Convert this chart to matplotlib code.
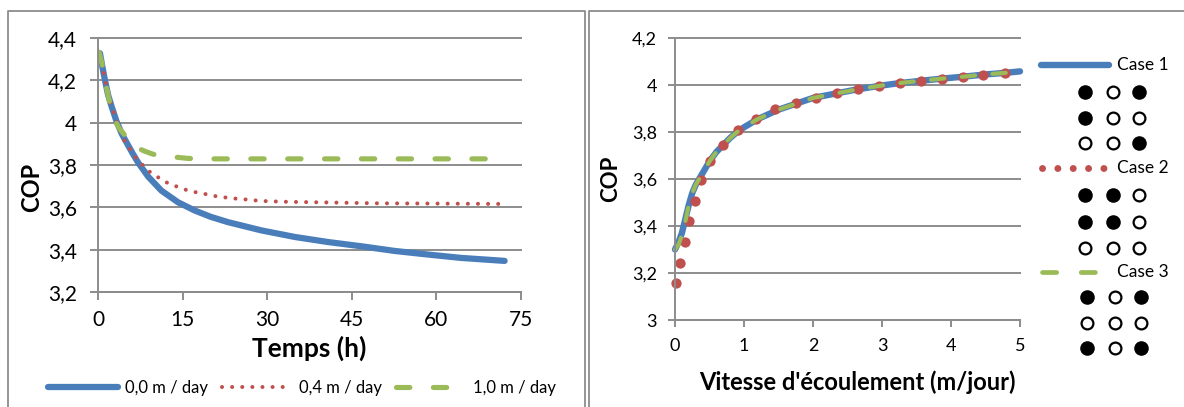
import matplotlib
matplotlib.use('Agg')
import matplotlib.pyplot as plt
from matplotlib.ticker import FuncFormatter
from matplotlib.lines import Line2D

plt.rcParams['font.family'] = ['Lato', 'DejaVu Sans']

# ---- left chart: COP vs time, three flow velocities ----
t_00 = [0.35, 0.8, 1.24, 1.8, 2.43, 3.26, 4.2, 5.3, 6.2, 7.1, 8.9, 11.24, 14.18,
        17.15, 20, 23.05, 28.97, 34.9, 40.8, 46.7, 52.6, 58.5, 64.4, 72.1]
cop_00 = [4.328, 4.26, 4.20, 4.13, 4.075, 4.008, 3.948, 3.895, 3.852, 3.812, 3.745,
          3.679, 3.624, 3.585, 3.555, 3.530, 3.491, 3.460, 3.436, 3.416, 3.394,
          3.377, 3.361, 3.347]

t_04 = [0.35, 1.24, 2.43, 3.5, 4.6, 6.5, 7.87, 9.17, 10.64, 12.12, 13.9, 15.67, 17.4,
        19.2, 21, 22.8, 24.5, 26.3, 28.2, 30, 33.7, 40.8, 49.6, 58.5, 71.8]
cop_04 = [4.328, 4.20, 4.075, 3.99, 3.919, 3.840, 3.801, 3.768, 3.742, 3.718, 3.699,
          3.682, 3.671, 3.662, 3.652, 3.646, 3.641, 3.637, 3.632, 3.629, 3.626,
          3.623, 3.619, 3.618, 3.616]

t_10 = [0.18, 0.7, 1.3, 2.07, 2.66, 3.7, 4.73, 5.8, 6.8, 8.3, 9.75, 11.4, 13, 16, 20, 72]
cop_10 = [4.333, 4.28, 4.19, 4.097, 4.03, 3.975, 3.942, 3.905, 3.883, 3.865, 3.851,
          3.843, 3.839, 3.831, 3.829, 3.829]

left_labels = ['0,0 m / day', '0,4 m / day', '1,0 m / day']

# ---- right chart: COP vs flow velocity, three borehole layouts ----
v_case1 = [0, 0.05, 0.1, 0.15, 0.2, 0.25, 0.3, 0.4, 0.5, 0.6, 0.7, 0.8, 0.9, 1.0,
           1.2, 1.5, 1.75, 2.0, 2.35, 2.65, 3.0, 3.25, 3.6, 3.9, 4.2, 4.5, 4.8, 5.0]
cop_case1 = [3.30, 3.33, 3.37, 3.43, 3.49, 3.54, 3.575, 3.625, 3.675, 3.715, 3.745,
             3.775, 3.80, 3.82, 3.855, 3.895, 3.92, 3.945, 3.965, 3.982, 3.998,
             4.008, 4.019, 4.028, 4.036, 4.045, 4.052, 4.058]

v_case2 = [0.01, 0.07, 0.15, 0.21, 0.29, 0.38, 0.51, 0.69, 0.92, 1.17, 1.45, 1.75,
           2.04, 2.35, 2.65, 2.95, 3.26, 3.56, 3.87, 4.17, 4.47, 4.78]
cop_case2 = [3.159, 3.244, 3.331, 3.420, 3.508, 3.594, 3.676, 3.746, 3.810, 3.857,
             3.897, 3.922, 3.946, 3.966, 3.983, 3.997, 4.010, 4.018, 4.027, 4.035,
             4.043, 4.050]

v_case3 = [0, 0.05, 0.1, 0.15, 0.2, 0.25, 0.3, 0.4, 0.5, 0.6, 0.7, 0.8, 0.9, 1.0,
           1.2, 1.5, 1.75, 2.0, 2.35, 2.65, 3.0, 3.25, 3.6, 3.9, 4.2, 4.5, 4.8]
cop_case3 = [3.30, 3.32, 3.36, 3.42, 3.49, 3.54, 3.575, 3.625, 3.675, 3.715, 3.745,
             3.775, 3.80, 3.82, 3.855, 3.895, 3.92, 3.945, 3.965, 3.982, 3.998,
             4.008, 4.019, 4.028, 4.036, 4.045, 4.052]

case_labels = ['Case 1', 'Case 2', 'Case 3']
# borehole layouts (1 = filled circle, 0 = empty circle)
layouts = [
    [[1, 0, 1], [1, 0, 0], [0, 0, 1]],
    [[1, 1, 0], [1, 1, 0], [0, 0, 0]],
    [[1, 0, 1], [0, 0, 0], [1, 0, 1]],
]

BLUE = '#4a7ebb'
RED = '#c0504d'
GREEN = '#9bbb59'
GRID = '#8c8c8c'

W, H = 1184, 407


def box(x0, y0, x1, y1):
    return [x0 / W, 1 - y1 / H, (x1 - x0) / W, (y1 - y0) / H]


def comma(v, pos):
    return f"{v:g}".replace('.', ',')


def style(ax, size, tick_len, ypad, xpad):
    for s in ['top', 'right']:
        ax.spines[s].set_visible(False)
    for s in ['left', 'bottom']:
        ax.spines[s].set_color(GRID)
        ax.spines[s].set_linewidth(1.4)
    ax.grid(axis='y', color=GRID, linewidth=1.4)
    ax.set_axisbelow(True)
    ax.tick_params(direction='out', length=tick_len, width=1.4, color=GRID,
                   labelsize=size, labelcolor='black')
    ax.tick_params(axis='y', pad=ypad)
    ax.tick_params(axis='x', pad=xpad)
    ax.yaxis.set_major_formatter(FuncFormatter(comma))
    for gl in ax.get_ygridlines():
        gl.set_clip_on(False)


fig = plt.figure(figsize=(W / 100, H / 100), dpi=100)

# ---------------- left chart ----------------
ax1 = fig.add_axes(box(98, 38, 521, 292))
ax1.set_xlim(0, 75)
ax1.set_ylim(3.2, 4.4)
ax1.set_xticks([0, 15, 30, 45, 60, 75])
ax1.set_yticks([3.2, 3.4, 3.6, 3.8, 4.0, 4.2, 4.4])
style(ax1, 15, 6, 9, 7)

l1, = ax1.plot(t_00, cop_00, color=BLUE, lw=4.5, solid_capstyle='round',
               solid_joinstyle='round', label=left_labels[0])
l2, = ax1.plot(t_04, cop_04, color=RED, lw=2.9, linestyle=(0, (0.01, 2.5)),
               dash_capstyle='round', label=left_labels[1])
l3, = ax1.plot(t_10, cop_10, color=GREEN, lw=3.7, linestyle=(0, (2.6, 4.57)),
               dash_capstyle='round', label=left_labels[2])

ax1.set_xlabel('Temps (h)', fontsize=19, fontweight='bold', va='center')
ax1.xaxis.set_label_coords(0.5, -0.22)
ax1.set_ylabel('COP', fontsize=17, fontweight='bold', va='center')
ax1.yaxis.set_label_coords(-0.158, 0.41)

fig.legend(handles=[l1, l2, l3], loc='center', bbox_to_anchor=(302 / W, 1 - 388 / H),
           ncol=3, frameon=False, fontsize=12, handlelength=4.2,
           handletextpad=0.45, columnspacing=0.8)

# ---------------- right chart ----------------
ax2 = fig.add_axes(box(675, 38, 1020, 320))
ax2.set_xlim(0, 5)
ax2.set_ylim(3.0, 4.2)
ax2.set_xticks([0, 1, 2, 3, 4, 5])
ax2.set_yticks([3.0, 3.2, 3.4, 3.6, 3.8, 4.0, 4.2])
style(ax2, 13, 5, 8, 8)

ax2.plot(v_case1, cop_case1, color=BLUE, lw=4.6, solid_capstyle='round',
         solid_joinstyle='round', clip_on=False)
ax2.plot(v_case2, cop_case2, 'o', color=RED, ms=7.4, mec='none', clip_on=False)
ax2.plot(v_case3, cop_case3, color=GREEN, lw=3.0, linestyle=(0, (3.2, 4.2)),
         dash_capstyle='round', clip_on=False)

ax2.set_xlabel("Vitesse d'écoulement (m/jour)", fontsize=17, fontweight='bold', va='center')
ax2.xaxis.set_label_coords(0.53, -0.22)
ax2.set_ylabel('COP', fontsize=16, fontweight='bold', va='center')
ax2.yaxis.set_label_coords(-0.188, 0.5)

# ---------------- overlay in pixel coordinates: frames + right legend ----------------
ov = fig.add_axes([0, 0, 1, 1], zorder=5)
ov.set_xlim(0, W)
ov.set_ylim(H, 0)
ov.axis('off')

frame_kw = dict(color=GRID, lw=1.3)
ov.add_line(Line2D([7.5, 7.5, 584.5, 584.5], [H + 5, 11, 11, H + 5], **frame_kw))
ov.add_line(Line2D([588.5, 588.5, W + 5], [H + 5, 11, 11], **frame_kw))

swatch_y = [65, 168, 272]
grid_rows = [[92, 118, 143], [195, 222, 248], [297, 323, 348]]
grid_cols = [[1085, 1113, 1139], [1085, 1113, 1139], [1087, 1115, 1141]]

ov.plot([1041, 1109], [swatch_y[0]] * 2, color=BLUE, lw=4.6, solid_capstyle='round')
ov.plot([1042, 1107], [swatch_y[1]] * 2, color=RED, lw=5.0, linestyle=(0, (0.01, 2.2)),
        dash_capstyle='round')
ov.plot([1042, 1095], [swatch_y[2]] * 2, color=GREEN, lw=3.4, linestyle=(0, (3.0, 5.2)),
        dash_capstyle='round')

for k in range(3):
    ov.text(1117, swatch_y[k], case_labels[k], fontsize=12.5, va='center', ha='left')
    for r in range(3):
        for c in range(3):
            if layouts[k][r][c]:
                ov.scatter(grid_cols[k][c], grid_rows[k][r], s=110, color='black', lw=0)
            else:
                ov.scatter(grid_cols[k][c], grid_rows[k][r], s=72, facecolor='white',
                           edgecolor='black', lw=1.6)

fig.savefig('out.png', dpi=100)
